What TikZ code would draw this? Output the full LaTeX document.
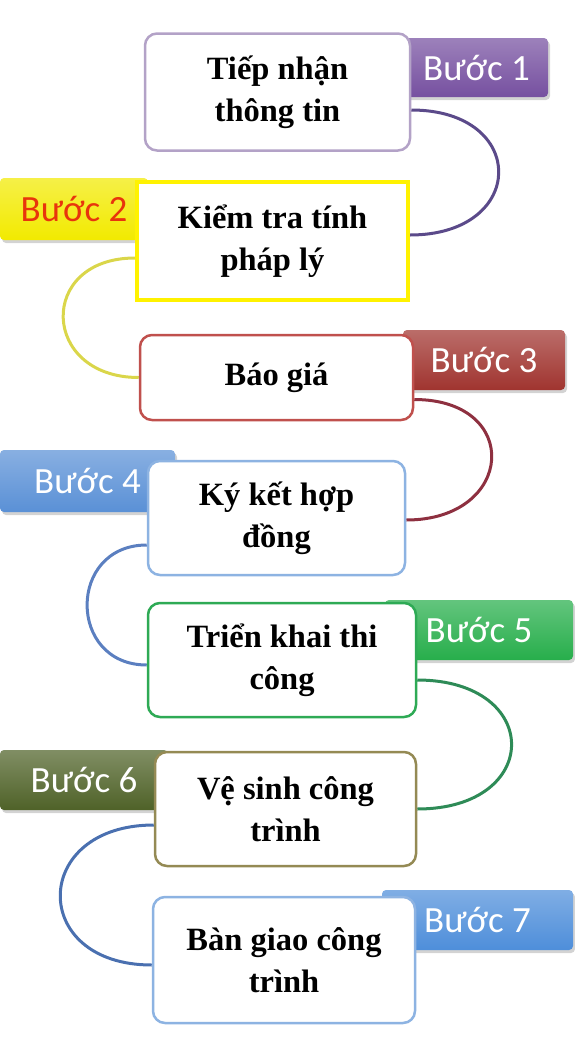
\documentclass[tikz,border=0pt]{standalone}
\usepackage{fontspec}
\setmainfont{Liberation Serif}
\newfontfamily\tagfont{Carlito}
\usepackage{tikz}
\usetikzlibrary{shadows,calc,backgrounds}
\definecolor{tagpurple}{HTML}{7650A0}
\definecolor{tagyellow}{HTML}{F2EA00}
\definecolor{tagred}{HTML}{A0342F}
\definecolor{tagblue}{HTML}{5A90D6}
\definecolor{taggreen}{HTML}{27AE4B}
\definecolor{tagolive}{HTML}{4F6228}
\definecolor{tagsky}{HTML}{4E8EDA}
\definecolor{rimpurple}{HTML}{B3A2C7}
\definecolor{rimyellow}{HTML}{FFF200}
\definecolor{rimred}{HTML}{C0504D}
\definecolor{rimblue}{HTML}{8DB3E2}
\definecolor{rimgreen}{HTML}{2EAA55}
\definecolor{rimolive}{HTML}{948A54}
\definecolor{swpurple}{HTML}{5B4A8A}
\definecolor{swyellow}{HTML}{DAD64A}
\definecolor{swred}{HTML}{8E3040}
\definecolor{swblue}{HTML}{5B7FC0}
\definecolor{swgreen}{HTML}{2E8B57}
\definecolor{swnavy}{HTML}{4A70B0}
\definecolor{redtext}{HTML}{E8350C}
\tikzstyle{stepbox}=[line width=2.5pt, rounded corners=12pt, fill=white, text=black, align=center, inner sep=0pt, font=\bfseries\fontsize{32.5}{42}\selectfont]
\tikzstyle{tagbox}=[rounded corners=4pt, inner sep=0pt, font=\tagfont\fontsize{37}{40}\selectfont, text=white, drop shadow={shadow xshift=2pt,shadow yshift=-3pt,opacity=.35}]
\tikzstyle{swirl}=[line width=3pt]
\tikzset{tagshade/.style={top color=#1!72!white, bottom color=#1}}

\begin{document}
\begin{tikzpicture}[x=1pt,y=-1pt]
	\useasboundingbox (0,0) rectangle (574,1047);
	\node[tagbox, tagshade=tagpurple, minimum width=143pt, minimum height=59pt] (b1) at (476.5,67.5) {Bước 1};
	\node[tagbox, tagshade=tagyellow, text=redtext, minimum width=148pt, minimum height=62pt] (b2) at (74,209) {Bước 2};
	\node[tagbox, tagshade=tagred, minimum width=162pt, minimum height=60pt] (b3) at (484,360) {Bước 3};
	\node[tagbox, tagshade=tagblue, minimum width=175pt, minimum height=62pt] (b4) at (87.5,481) {Bước 4};
	\node[tagbox, tagshade=taggreen, minimum width=188pt, minimum height=60pt] (b5) at (479,630) {Bước 5};
	\node[tagbox, tagshade=tagolive, minimum width=168pt, minimum height=60pt] (b6) at (84,780) {Bước 6};
	\node[tagbox, tagshade=tagsky, minimum width=191pt, minimum height=60pt] (b7) at (477.5,920) {Bước 7};
	\node[stepbox, draw=rimpurple, minimum width=265pt, minimum height=117pt] (s1) at (277.5,92) {Tiếp nhận\\thông tin};
	\node[stepbox, draw=rimyellow, rounded corners=0pt, line width=4pt, minimum width=271pt, minimum height=118pt] (s2) at (272.5,241) {Kiểm tra tính\\pháp lý};
	\node[stepbox, draw=rimred, minimum width=273pt, minimum height=85pt] (s3) at (276.5,377.5) {Báo giá};
	\node[stepbox, draw=rimblue, minimum width=257pt, minimum height=114pt] (s4) at (276.5,518) {Ký kết hợp\\đồng};
	\node[stepbox, draw=rimgreen, minimum width=268pt, minimum height=114pt] (s5) at (282,660) {Triển khai thi\\công};
	\node[stepbox, draw=rimolive, minimum width=261pt, minimum height=114pt] (s6) at (285.5,809) {Vệ sinh công\\trình};
	\node[stepbox, draw=rimblue, minimum width=262pt, minimum height=126pt] (s7) at (284,960) {Bàn giao công\\trình};
	\begin{scope}[on background layer]
		\draw[swirl, swpurple] ($(s1.east)+(0,18)$) to[out=0,in=0,looseness=2.4] ($(s2.east)+(0,-6)$);
		\draw[swirl, swyellow] ($(s2.west)+(0,17)$) to[out=180,in=180,looseness=2.1] (s3.west);
		\draw[swirl, swred] ($(s3.east)+(0,22)$) to[out=0,in=0,looseness=2.3] ($(s4.east)+(0,2)$);
		\draw[swirl, swblue] ($(s4.west)+(0,27)$) to[out=180,in=180,looseness=1.7] ($(s5.west)+(0,5)$);
		\draw[swirl, swgreen] ($(s5.east)+(0,20)$) to[out=0,in=0,looseness=2.5] (s6.east);
		\draw[swirl, swnavy] ($(s6.west)+(0,16)$) to[out=180,in=180,looseness=2.25] ($(s7.west)+(0,5)$);
	\end{scope}
\end{tikzpicture}
\end{document}
